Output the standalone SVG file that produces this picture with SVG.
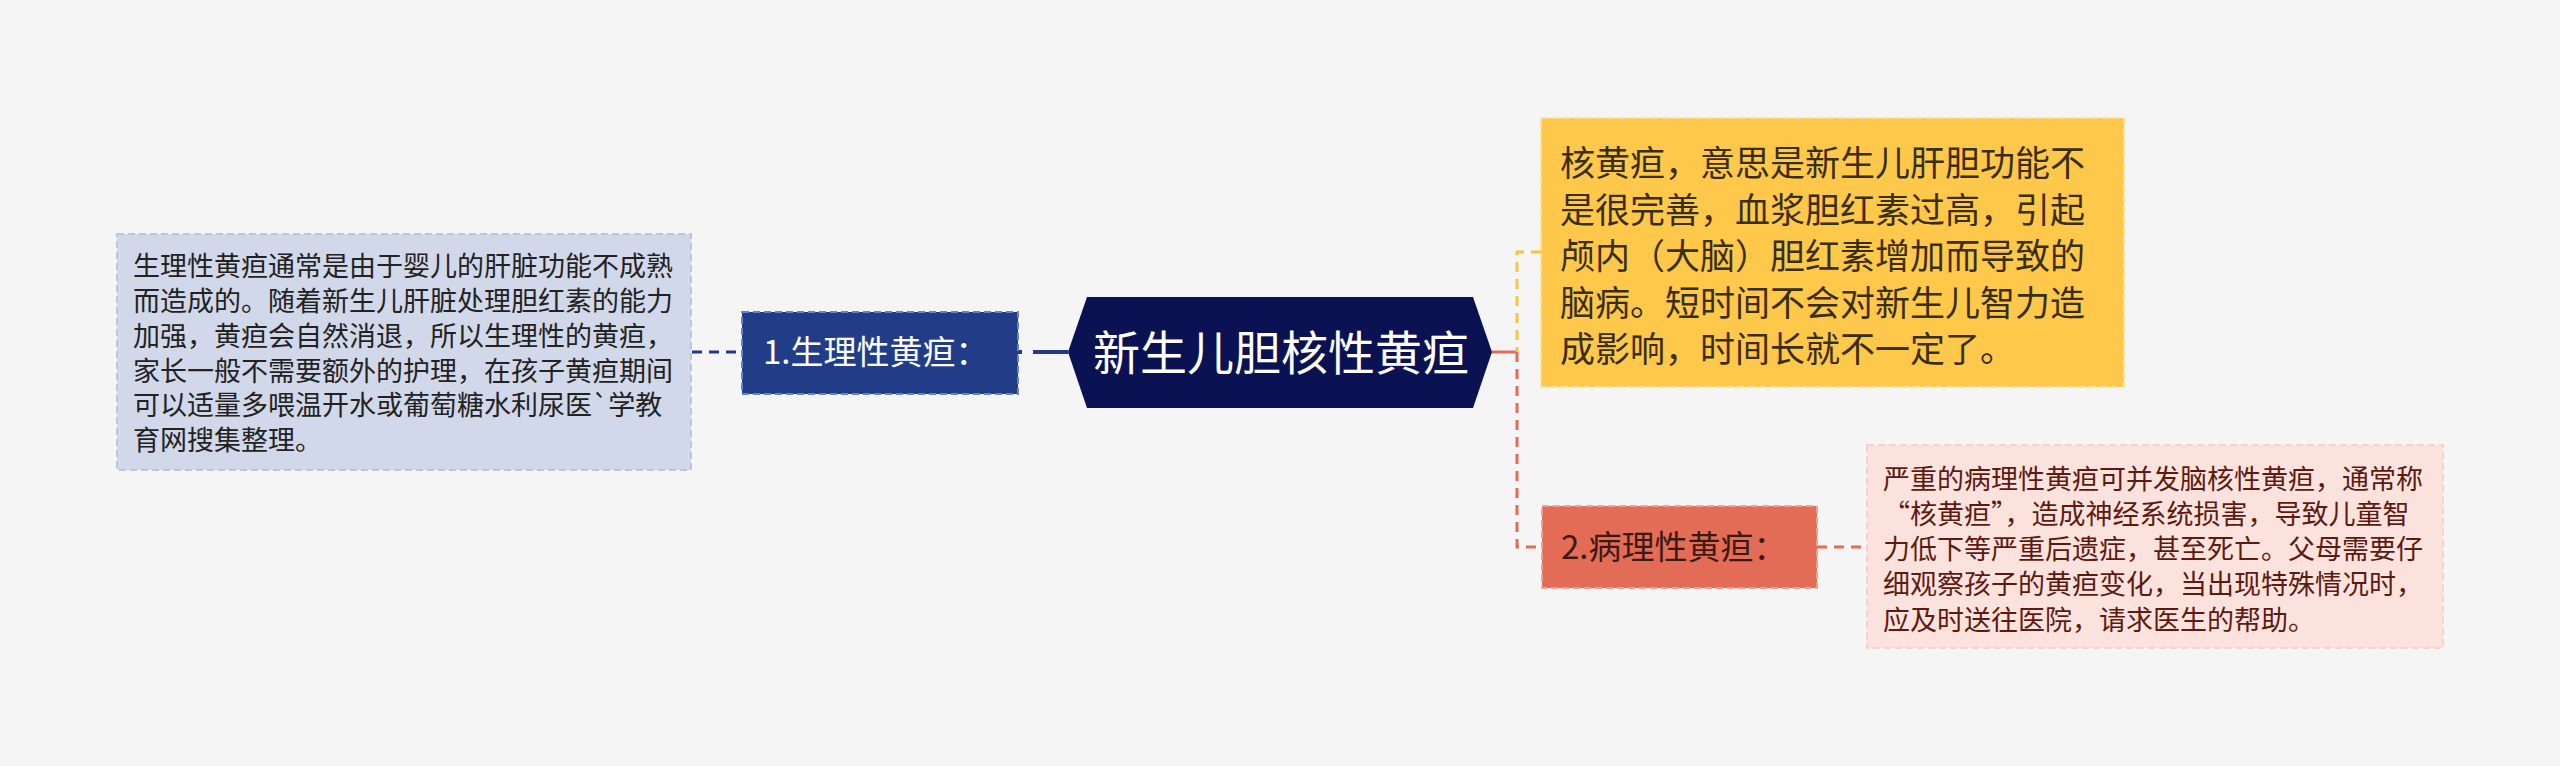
<svg xmlns="http://www.w3.org/2000/svg" width="2560" height="766" viewBox="0 0 2560 766">
<style>
.t{font-family:"Noto Sans CJK SC","Noto Sans",sans-serif;}
.b{stroke-width:2;stroke-dasharray:7 4;}
.c{fill:none;stroke-width:3;stroke-dasharray:10 7;}
</style>
<rect width="2560" height="766" fill="#f5f5f5"/>
<g id="connectors">
<path d="M692 352 H742" class="c" stroke="#1f3a87"/>
<path d="M1018 352 H1068" fill="none" stroke="#1f3a87" stroke-width="4" stroke-dasharray="4 11 100"/>
<path d="M1492 352 H1517" fill="none" stroke="#e36c56" stroke-width="3"/>
<path d="M1541 252 H1517 V352" class="c" stroke="#f9c440"/>
<path d="M1517 352 V547 H1541" class="c" stroke="#e36c56"/>
<path d="M1817 547 H1868" class="c" stroke="#e36c56"/>
</g>
<g id="center">
<polygon points="1068,352 1087,297 1473,297 1492,352 1473,408 1087,408" fill="#0b1254"/>
<text class="t" x="1281" y="370" font-size="47" fill="#ffffff" text-anchor="middle">新生儿胆核性黄疸</text>
</g>
<g id="node1">
<rect x="742" y="312" width="276" height="82" fill="#213d88" class="b" stroke="#6a82c0"/>
<text class="t" x="763" y="364" font-size="33" fill="#ffffff">1.生理性黄疸：</text>
</g>
<g id="node1-detail">
<rect x="117" y="234" width="574" height="236" fill="#d1d8e9" class="b" stroke="#bcc5dc"/>
<g class="t" font-size="27" fill="#222222">
<text x="133" y="276">生理性黄疸通常是由于婴儿的肝脏功能不成熟</text>
<text x="133" y="311">而造成的。随着新生儿肝脏处理胆红素的能力</text>
<text x="133" y="346">加强，黄疸会自然消退，所以生理性的黄疸，</text>
<text x="133" y="381">家长一般不需要额外的护理，在孩子黄疸期间</text>
<text x="133" y="415">可以适量多喂温开水或葡萄糖水利尿医`学教</text>
<text x="133" y="450">育网搜集整理。</text>
</g>
</g>
<g id="node-kernicterus">
<rect x="1541" y="118" width="583" height="269" fill="#fec84b" class="b" stroke="#ffe29a"/>
<g class="t" font-size="35" fill="#3a2e10">
<text x="1560" y="176">核黄疸，意思是新生儿肝胆功能不</text>
<text x="1560" y="223">是很完善，血浆胆红素过高，引起</text>
<text x="1560" y="269">颅内（大脑）胆红素增加而导致的</text>
<text x="1560" y="316">脑病。短时间不会对新生儿智力造</text>
<text x="1560" y="362">成影响，时间长就不一定了。</text>
</g>
</g>
<g id="node2">
<rect x="1542" y="506" width="275" height="82" fill="#e36c56" class="b" stroke="#f0a090"/>
<text class="t" x="1561" y="559" font-size="33" fill="#3b1a14">2.病理性黄疸：</text>
</g>
<g id="node2-detail">
<rect x="1867" y="445" width="576" height="203" fill="#fbe2dd" class="b" stroke="#f7d2ca"/>
<g class="t" font-size="27" fill="#5c1a10">
<text x="1883" y="489">严重的病理性黄疸可并发脑核性黄疸，通常称</text>
<text x="1883" y="524">“核黄疸”，造成神经系统损害，导致儿童智</text>
<text x="1883" y="559">力低下等严重后遗症，甚至死亡。父母需要仔</text>
<text x="1883" y="594">细观察孩子的黄疸变化，当出现特殊情况时，</text>
<text x="1883" y="630">应及时送往医院，请求医生的帮助。</text>
</g>
</g>
</svg>
